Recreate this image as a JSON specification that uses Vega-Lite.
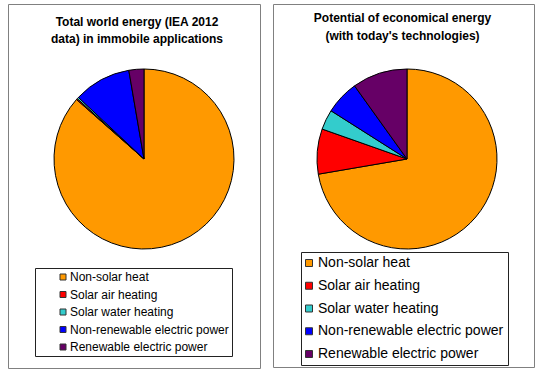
{
  "$schema": "https://vega.github.io/schema/vega-lite/v6.json",
  "padding": {"left": 7, "top": 3, "right": 0, "bottom": 0},
  "background": "white",
  "spacing": 11,
  "datasets": {
    "total": [
      {"source": "Non-solar heat", "share": 86.5, "rank": 1},
      {"source": "Solar air heating", "share": 0.2, "rank": 2},
      {"source": "Solar water heating", "share": 0.3, "rank": 3},
      {"source": "Non-renewable electric power", "share": 10.3, "rank": 4},
      {"source": "Renewable electric power", "share": 2.7, "rank": 5}
    ],
    "potential": [
      {"source": "Non-solar heat", "share": 72.3, "rank": 1},
      {"source": "Solar air heating", "share": 8.1, "rank": 2},
      {"source": "Solar water heating", "share": 3.6, "rank": 3},
      {"source": "Non-renewable electric power", "share": 6.1, "rank": 4},
      {"source": "Renewable electric power", "share": 9.9, "rank": 5}
    ]
  },
  "config": {
    "view": {"stroke": "#808080", "strokeWidth": 1},
    "font": "Liberation Sans"
  },
  "resolve": {"scale": {"color": "independent"}, "legend": {"color": "independent"}},
  "hconcat": [
    {
      "width": 252,
      "height": 364,
      "view": {"stroke": "#808080", "strokeWidth": 1, "fill": "white"},
      "data": {"name": "total"},
      "title": {
        "text": ["Total world energy (IEA 2012", "data) in immobile applications"],
        "fontSize": 12, "fontWeight": "bold", "font": "Liberation Sans",
        "lineHeight": 17, "baseline": "top", "offset": -42, "anchor": "middle",
        "color": "#000000", "dx": 3
      },
      "mark": {"type": "arc", "outerRadius": 90, "x": 136, "y": 155, "stroke": "#000000", "strokeWidth": 1},
      "encoding": {
        "theta": {"field": "share", "type": "quantitative", "stack": true},
        "order": {"field": "rank", "type": "quantitative"},
        "color": {
          "field": "source", "type": "nominal",
          "scale": {
            "domain": ["Non-solar heat", "Solar air heating", "Solar water heating", "Non-renewable electric power", "Renewable electric power"],
            "range": ["#FF9900", "#FF0000", "#33CCCC", "#0000FF", "#660066"]
          },
          "legend": {
            "title": null, "orient": "none", "legendX": 27, "legendY": 264,
            "padding": 3, "strokeColor": "#222222", "fillColor": "#ffffff",
            "symbolType": "square", "symbolSize": 36, "symbolStrokeColor": "#333333", "symbolStrokeWidth": 1,
            "symbolOffset": 19, "labelOffset": 1, "labelFontSize": 12, "labelFont": "Liberation Sans",
            "labelColor": "#000000", "rowPadding": 5.5, "labelLimit": 400
          }
        }
      }
    },
    {
      "width": 261,
      "height": 363,
      "view": {"stroke": "#808080", "strokeWidth": 1, "fill": "white"},
      "data": {"name": "potential"},
      "title": {
        "text": ["Potential of economical energy", "(with today's technologies)"],
        "fontSize": 12, "fontWeight": "bold", "font": "Liberation Sans",
        "lineHeight": 18, "baseline": "top", "offset": -39, "anchor": "middle",
        "color": "#000000", "dx": -1
      },
      "mark": {"type": "arc", "outerRadius": 90, "x": 134, "y": 155, "stroke": "#000000", "strokeWidth": 1},
      "encoding": {
        "theta": {"field": "share", "type": "quantitative", "stack": true},
        "order": {"field": "rank", "type": "quantitative"},
        "color": {
          "field": "source", "type": "nominal",
          "scale": {
            "domain": ["Non-solar heat", "Solar air heating", "Solar water heating", "Non-renewable electric power", "Renewable electric power"],
            "range": ["#FF9900", "#FF0000", "#33CCCC", "#0000FF", "#660066"]
          },
          "legend": {
            "title": null, "orient": "none", "legendX": 28, "legendY": 248,
            "padding": 4, "strokeColor": "#222222", "fillColor": "#ffffff",
            "symbolType": "square", "symbolSize": 49, "symbolStrokeColor": "#333333", "symbolStrokeWidth": 1,
            "symbolOffset": -3, "labelOffset": 2, "labelFontSize": 14, "labelFont": "Liberation Sans",
            "labelColor": "#000000", "rowPadding": 8.75, "labelLimit": 400
          }
        }
      }
    }
  ]
}
